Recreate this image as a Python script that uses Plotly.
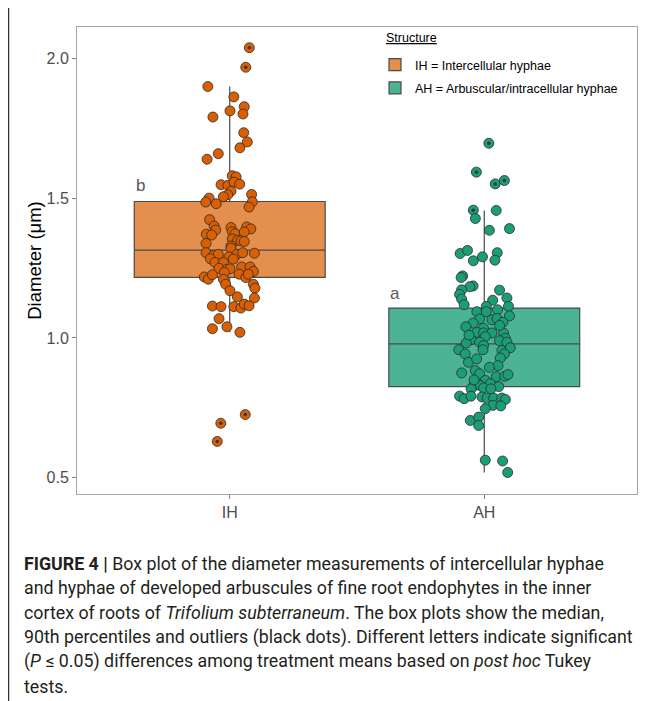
import plotly.graph_objects as go

# ---------------- data ----------------
categories = ["IH", "AH"]
cat_pos = [1, 2]
legend_names = ["IH = Intercellular hyphae", "AH = Arbuscular/intracellular hyphae"]
legend_title = "<u>Structure</u>"
letters = ["b", "a"]
letter_y = [1.545, 1.160]

# box statistics
q1 = [1.217, 0.826]
median = [1.314, 0.979]
q3 = [1.488, 1.107]
lowerfence = [1.020, 0.519]
upperfence = [1.899, 1.456]

# individual measurements (diameter, µm) and jitter offsets
ih_val = [2.038, 1.968, 1.899, 1.862, 1.827, 1.812, 1.801, 1.790, 1.734, 1.701, 1.680, 1.659, 1.639,
          1.580, 1.576, 1.548, 1.546, 1.557, 1.550, 1.525, 1.512, 1.505, 1.513, 1.500, 1.480, 1.487,
          1.468, 1.486, 1.423, 1.400, 1.386, 1.371, 1.368, 1.338, 1.395, 1.380, 1.373, 1.397, 1.390,
          1.379, 1.354, 1.349, 1.347, 1.345, 1.329, 1.321, 1.305, 1.295, 1.299, 1.283, 1.290, 1.299,
          1.305, 1.303, 1.282, 1.270, 1.270, 1.249, 1.245, 1.247, 1.254, 1.254, 1.238, 1.218, 1.210,
          1.226, 1.234, 1.228, 1.216, 1.228, 1.210, 1.192, 1.169, 1.192, 1.178, 1.147, 1.143, 1.114,
          1.112, 1.112, 1.107, 1.121, 1.115, 1.069, 1.033, 1.040, 1.020, 0.726, 0.695, 0.630]
ih_dx = [0.077, 0.063, -0.086, 0.016, 0.057, 0.001, 0.052, -0.066, 0.055, 0.069, 0.040, -0.045, -0.089,
         0.010, 0.025, -0.034, -0.007, 0.017, 0.039, 0.005, -0.008, -0.025, 0.086, -0.081, -0.053, 0.089,
         0.076, -0.094, -0.079, -0.061, -0.055, -0.092, -0.071, -0.093, 0.005, 0.010, 0.021, 0.067, 0.083,
         0.057, 0.010, 0.031, 0.044, 0.057, 0.005, 0.005, -0.093, -0.064, -0.045, -0.076, -0.003, 0.028,
         0.051, 0.097, 0.014, -0.058, -0.025, -0.042, -0.012, 0.001, 0.047, 0.080, 0.093, -0.100, -0.084,
         -0.068, -0.021, 0.037, 0.063, 0.073, -0.025, -0.016, 0.001, 0.093, 0.099, 0.030, 0.097, -0.068,
         -0.034, 0.016, 0.044, 0.057, 0.076, -0.042, -0.068, -0.011, 0.040, 0.061, -0.035, -0.049]

ah_val = [1.696, 1.593, 1.551, 1.563, 1.457, 1.456, 1.427, 1.385, 1.391, 1.302, 1.313, 1.276, 1.290,
          1.305, 1.278, 1.222, 1.216, 1.186, 1.183, 1.172, 1.156, 1.171, 1.143, 1.135,
          1.139, 1.119, 1.113, 1.113, 1.094, 1.094, 1.101, 1.079, 1.068, 1.065, 1.070, 1.056, 1.053,
          1.040, 1.035, 1.020, 1.018, 1.018, 1.017, 0.994, 1.005, 0.999, 0.982, 0.985, 0.973, 0.990,
          0.985, 0.958, 0.958, 0.955, 0.965, 0.943, 0.943, 0.928, 0.913, 0.901, 0.875, 0.883, 0.872,
          0.862, 0.863, 0.869, 0.848, 0.836, 0.828, 0.830, 0.826, 0.818, 0.821, 0.818, 0.792, 0.783,
          0.792, 0.789, 0.785, 0.785, 0.785, 0.780, 0.759, 0.757, 0.747, 0.705, 0.717, 0.687, 0.563,
          0.560, 0.519, 1.045, 0.925, 0.895, 1.010, 0.850]
ah_dx = [0.018, -0.031, 0.043, 0.079, -0.043, 0.047, -0.035, 0.020, 0.099, -0.095, -0.066, -0.043, -0.007,
         0.051, 0.042, -0.085, -0.091, -0.044, -0.057, -0.089, -0.097, 0.060, 0.089, 0.033,
         -0.089, -0.079, 0.095, 0.008, -0.029, 0.008, 0.052, 0.099, -0.018, 0.030, 0.050, 0.073, -0.044,
         -0.072, -0.003, -0.029, -0.003, 0.030, 0.076, -0.052, 0.004, 0.083, -0.071, -0.018, -0.003, 0.060,
         0.089, -0.100, -0.005, 0.069, 0.102, -0.075, 0.079, 0.063, -0.062, 0.054, -0.089, -0.035, -0.018,
         0.047, 0.080, 0.093, 0.004, 0.024, -0.042, -0.016, 0.057, -0.052, -0.003, 0.026, -0.097, -0.079,
         -0.052, -0.009, 0.011, 0.037, 0.069, 0.083, 0.034, 0.065, 0.004, -0.055, -0.022, -0.022, 0.004,
         0.072, 0.092, 0.060, -0.030, 0.020, -0.060, -0.040]

values = [ih_val, ah_val]
offsets = [ih_dx, ah_dx]

caption_lines = [
    "<b>FIGURE 4 |</b> Box plot of the diameter measurements of intercellular hyphae",
    "and hyphae of developed arbuscules of fine root endophytes in the inner",
    "cortex of roots of <i>Trifolium subterraneum</i>. The box plots show the median,",
    "90th percentiles and outliers (black dots). Different letters indicate significant",
    "(<i>P</i> ≤ 0.05) differences among treatment means based on <i>post hoc</i> Tukey",
    "tests.",
]

# ---------------- style / layout ----------------
box_fill = ["rgba(217,95,2,0.70)", "rgba(27,158,119,0.78)"]
point_col = ["#D95F02", "#1B9E77"]

W, H = 657, 701
OFF = 8  # page offset of the plot div (body margin)
ML, MT = 77 - OFF, 27 - OFF
PW, PH = 560, 467
MR = W - ML - PW
MB = H - MT - PH


def px(X):  # page x pixel -> paper coordinate
    return (X - OFF - ML) / PW


def py(Y):  # page y pixel -> paper coordinate
    return (MT + PH - (Y - OFF)) / PH


fig = go.Figure()

for i in range(2):
    fig.add_trace(go.Box(
        x=[cat_pos[i]], q1=[q1[i]], median=[median[i]], q3=[q3[i]],
        lowerfence=[lowerfence[i]], upperfence=[upperfence[i]],
        name=legend_names[i], legendgroup=categories[i], fillcolor=box_fill[i],
        line=dict(color="#4a4a4a", width=1.2), whiskerwidth=0,
        width=0.75, boxpoints=False, hoverinfo="skip", showlegend=True,
    ))

for i in range(2):
    xs = [cat_pos[i] + d for d in offsets[i]]
    fig.add_trace(go.Scatter(
        x=xs, y=values[i], mode="markers", showlegend=False, hoverinfo="skip",
        marker=dict(size=10, color=point_col[i], line=dict(color="#2b2b2b", width=0.8)),
    ))

# outlier dots
for i in range(2):
    ox, oy = [], []
    for d, v in zip(offsets[i], values[i]):
        if v > upperfence[i] + 1e-6 or v < lowerfence[i] - 1e-6:
            ox.append(cat_pos[i] + d)
            oy.append(v)
    fig.add_trace(go.Scatter(
        x=ox, y=oy, mode="markers", showlegend=False, hoverinfo="skip",
        marker=dict(size=3.5, color="#333333"),
    ))

# letters
for i in range(2):
    fig.add_annotation(x=cat_pos[i] - 0.35, y=letter_y[i], text=letters[i], showarrow=False,
                       xanchor="center", yanchor="middle",
                       font=dict(size=17, color="#595959", family="Liberation Sans, Arial"))

# legend title
fig.add_annotation(xref="paper", yref="paper", x=px(384), y=py(38), text=legend_title,
                   showarrow=False, xanchor="left", yanchor="middle",
                   font=dict(size=12.5, color="#000000", family="Liberation Sans, Arial"))

# caption
for k, line in enumerate(caption_lines):
    Y = 563 + 24.6 * k
    fig.add_annotation(xref="paper", yref="paper", x=px(22), y=py(Y),
                       text=line, showarrow=False, xanchor="left", yanchor="middle", align="left",
                       font=dict(size=17.8, color="#231f20", family="Roboto"))

# left page border line
fig.add_shape(type="line", xref="paper", yref="paper",
              x0=px(8.5), x1=px(8.5), y0=py(0), y1=py(H + 20),
              line=dict(color="#333333", width=1.5))

fig.update_layout(
    width=W, height=H,
    margin=dict(l=ML, r=MR, t=MT, b=MB),
    paper_bgcolor="white", plot_bgcolor="white",
    boxmode="overlay",
    font=dict(family="Liberation Sans, Arial", color="#4d4d4d"),
    legend=dict(
        x=px(375), y=py(50), xanchor="left", yanchor="top",
        font=dict(size=12.5, color="#000000"), bgcolor="rgba(0,0,0,0)",
        tracegroupgap=4,
    ),
    xaxis=dict(
        range=[0.4, 2.6], tickvals=cat_pos, ticktext=categories,
        showgrid=False, zeroline=False, showline=True, mirror=True,
        linecolor="#a6a6a6", linewidth=1, ticks="outside", ticklen=4, tickcolor="#7f7f7f",
        tickfont=dict(size=16, color="#4d4d4d"),
    ),
    yaxis=dict(
        range=[0.442, 2.112], tickvals=[0.5, 1.0, 1.5, 2.0], tickformat=".1f",
        showgrid=False, zeroline=False, showline=True, mirror=True,
        linecolor="#a6a6a6", linewidth=1, ticks="outside", ticklen=4, tickcolor="#7f7f7f",
        tickfont=dict(size=16, color="#4d4d4d"),
        title=dict(text="Diameter (μm)", font=dict(size=18.5, color="#000000"), standoff=0),
    ),
)

fig.write_html("out.html")
